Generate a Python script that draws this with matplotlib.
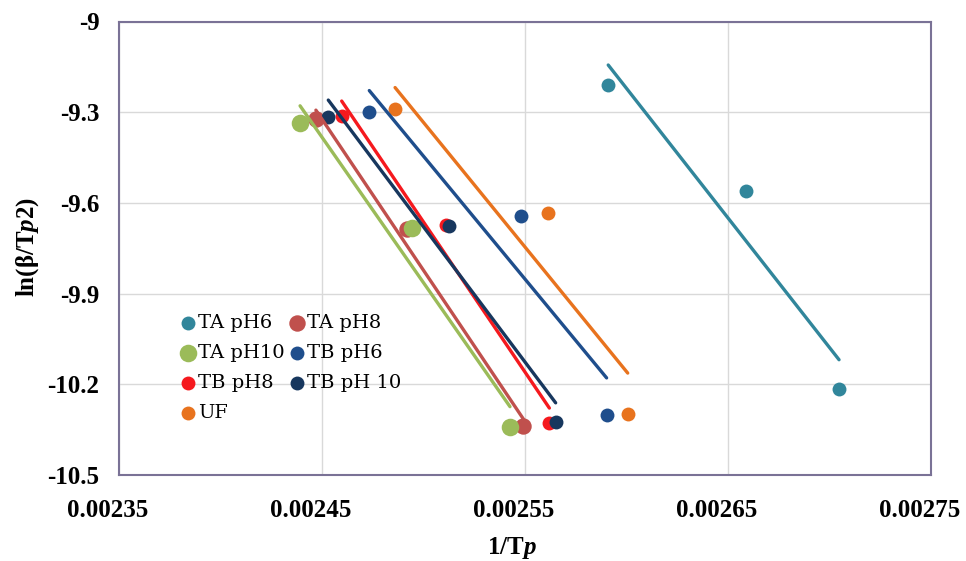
import matplotlib
matplotlib.use("Agg")
import matplotlib.pyplot as plt
import matplotlib.transforms as mtransforms
import numpy as np

plt.rcParams['font.family'] = ['Liberation Serif', 'DejaVu Serif']
plt.rcParams['mathtext.fontset'] = 'custom'
plt.rcParams['mathtext.rm'] = 'Liberation Serif:bold'
plt.rcParams['mathtext.it'] = 'Liberation Serif:italic:bold'

# data: 1/Tp and ln(beta/Tp^2)
ta_ph6_x = [0.0025910, 0.0026587, 0.0027047]
ta_ph6_y = [-9.210, -9.561, -10.216]
ta_ph8_x = [0.0024470, 0.0024917, 0.0025492]
ta_ph8_y = [-9.323, -9.687, -10.338]
ta_ph10_x = [0.0024392, 0.0024942, 0.0025426]
ta_ph10_y = [-9.337, -9.684, -10.340]
tb_ph6_x = [0.0024733, 0.0025480, 0.0025902]
tb_ph6_y = [-9.298, -9.643, -10.302]
tb_ph8_x = [0.0024597, 0.0025111, 0.0025620]
tb_ph8_y = [-9.313, -9.673, -10.329]
tb_ph10_x = [0.0024531, 0.0025127, 0.0025651]
tb_ph10_y = [-9.315, -9.675, -10.324]
uf_x = [0.0024860, 0.0025615, 0.0026006]
uf_y = [-9.289, -9.634, -10.299]

series_names = ['TA pH6', 'TA pH8', 'TA pH10', 'TB pH6', 'TB pH8', 'TB pH 10', 'UF']
x_ticks = [0.00235, 0.00245, 0.00255, 0.00265, 0.00275]
x_tick_labels = ['0.00235', '0.00245', '0.00255', '0.00265', '0.00275']
y_ticks = [-9, -9.3, -9.6, -9.9, -10.2, -10.5]
y_tick_labels = ['-9', '-9.3', '-9.6', '-9.9', '-10.2', '-10.5']

series = [
    (ta_ph6_x, ta_ph6_y, '#31869B', 100),
    (ta_ph8_x, ta_ph8_y, '#C0504D', 140),
    (ta_ph10_x, ta_ph10_y, '#9BBB59', 160),
    (tb_ph6_x, tb_ph6_y, '#1F4E8C', 100),
    (tb_ph8_x, tb_ph8_y, '#F5191E', 100),
    (tb_ph10_x, tb_ph10_y, '#17375E', 100),
    (uf_x, uf_y, '#E8731E', 100),
]

fig = plt.figure(figsize=(9.66, 5.61), dpi=100)
ax = fig.add_axes([119/966, 1-475/561, 812/966, 453.5/561])

handles = []
for (xs, ys, col, size), name in zip(series, series_names):
    xs = np.array(xs)
    ys = np.array(ys)
    h = ax.scatter(xs, ys, s=size, color=col, label=name, zorder=3, linewidths=0)
    handles.append(h)
    # linear trendline over the data range
    a, b = np.polyfit(xs, ys, 1)
    xl = np.array([xs.min(), xs.max()])
    ax.plot(xl, a*xl+b, color=col, lw=2.4, solid_capstyle='round', zorder=4)

ax.set_xlim(0.00235, 0.00275)
ax.set_ylim(-10.5, -9)
ax.set_xticks(x_ticks)
ax.set_xticklabels(x_tick_labels)
ax.set_yticks(y_ticks)
ax.set_yticklabels(y_tick_labels)
ax.tick_params(length=0, labelsize=18)
ax.tick_params(axis='x', pad=17)
ax.tick_params(axis='y', pad=14)
# x labels sit a little left of their gridlines in the original
shift = mtransforms.ScaledTranslation(-11/100, 0, fig.dpi_scale_trans)
for lbl in ax.get_xticklabels():
    lbl.set_transform(lbl.get_transform() + shift)
for lbl in ax.get_xticklabels() + ax.get_yticklabels():
    lbl.set_fontweight('bold')
ax.grid(True, color='#D9D9D9', lw=1)
ax.set_axisbelow(True)
for sp in ax.spines.values():
    sp.set_color('#7A7296')
    sp.set_linewidth(1.5)

# excel fills the legend row by row, matplotlib column by column
order = [0, 2, 4, 6, 1, 3, 5]
ax.legend([handles[i] for i in order], [series_names[i] for i in order],
          ncol=2, frameon=False, loc='upper left',
          bbox_to_anchor=(0.075, 0.355), prop={'family': 'DejaVu Serif', 'size': 14},
          handlelength=0.8, handletextpad=0.15, labelspacing=0.62, columnspacing=0.2,
          borderpad=0, borderaxespad=0)

fig.text(512/966, 1-548/561, '1/T$\\mathit{p}$', ha='center', va='center',
         fontsize=18, fontweight='bold')
fig.text(28/966, 1-247/561, 'ln(β/T$\\mathit{p}$2)', ha='center', va='center',
         fontsize=18, fontweight='bold', rotation='vertical')

fig.savefig('out.png', dpi=100)
